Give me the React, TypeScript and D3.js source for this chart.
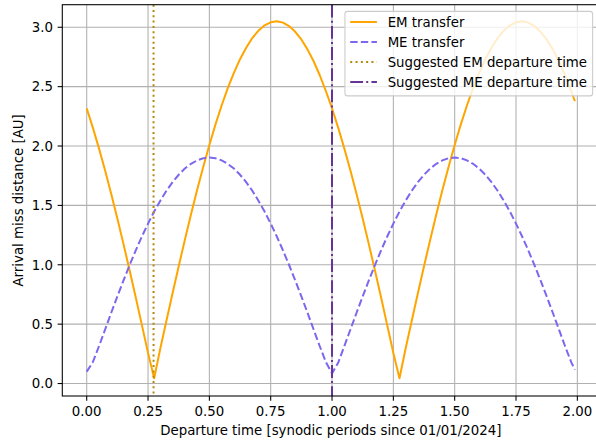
import React from "react";
import * as d3 from "d3";

// departure time in synodic periods since 01/01/2024
const departureTime = [
  0, 0.025, 0.05, 0.075, 0.1, 0.125, 0.15, 0.175, 0.2, 0.225,
  0.25, 0.275, 0.3, 0.325, 0.35, 0.375, 0.4, 0.425, 0.45, 0.475,
  0.5, 0.525, 0.55, 0.575, 0.6, 0.625, 0.65, 0.675, 0.7, 0.725,
  0.75, 0.775, 0.8, 0.825, 0.85, 0.875, 0.9, 0.925, 0.95, 0.975,
  1.0, 1.025, 1.05, 1.075, 1.1, 1.125, 1.15, 1.175, 1.2, 1.225,
  1.25, 1.275, 1.3, 1.325, 1.35, 1.375, 1.4, 1.425, 1.45, 1.475,
  1.5, 1.525, 1.55, 1.575, 1.6, 1.625, 1.65, 1.675, 1.7, 1.725,
  1.75, 1.775, 1.8, 1.825, 1.85, 1.875, 1.9, 1.925, 1.95, 1.975,
  1.99,
];

// arrival miss distance [AU], Earth -> Mars
const emMiss = [
  2.317, 2.155, 1.98, 1.794, 1.596, 1.39, 1.174, 0.952, 0.724, 0.492,
  0.257, 0.045, 0.295, 0.529, 0.761, 0.988, 1.209, 1.423, 1.629, 1.824,
  2.009, 2.182, 2.341, 2.487, 2.616, 2.731, 2.828, 2.909, 2.971, 3.016,
  3.042, 3.05, 3.039, 3.01, 2.962, 2.897, 2.814, 2.714, 2.596, 2.463,
  2.317, 2.155, 1.98, 1.794, 1.596, 1.39, 1.174, 0.952, 0.724, 0.492,
  0.257, 0.045, 0.295, 0.529, 0.761, 0.988, 1.209, 1.423, 1.629, 1.824,
  2.009, 2.182, 2.341, 2.487, 2.616, 2.731, 2.828, 2.909, 2.971, 3.016,
  3.042, 3.05, 3.039, 3.01, 2.962, 2.897, 2.814, 2.714, 2.596, 2.463,
  2.377,
];

// arrival miss distance [AU], Mars -> Earth
const meMiss = [
  0.1, 0.18, 0.314, 0.455, 0.596, 0.734, 0.868, 0.998, 1.121, 1.238,
  1.347, 1.448, 1.54, 1.623, 1.696, 1.758, 1.81, 1.85, 1.879, 1.897,
  1.903, 1.897, 1.879, 1.85, 1.81, 1.758, 1.696, 1.623, 1.54, 1.448,
  1.347, 1.238, 1.121, 0.998, 0.868, 0.734, 0.596, 0.455, 0.314, 0.18,
  0.085, 0.175, 0.314, 0.455, 0.596, 0.734, 0.868, 0.998, 1.121, 1.238,
  1.347, 1.448, 1.54, 1.623, 1.696, 1.758, 1.81, 1.85, 1.879, 1.897,
  1.903, 1.897, 1.879, 1.85, 1.81, 1.758, 1.696, 1.623, 1.54, 1.448,
  1.347, 1.238, 1.121, 0.998, 0.868, 0.734, 0.596, 0.455, 0.314, 0.18,
  0.117,
];

const suggestedEM = 0.2725;
const suggestedME = 1.0;

const xTicks = [0, 0.25, 0.5, 0.75, 1.0, 1.25, 1.5, 1.75, 2.0];
const yTicks = [0, 0.5, 1.0, 1.5, 2.0, 2.5, 3.0];

const legendItems = [
  { label: "EM transfer", color: "orange", dash: "none" },
  { label: "ME transfer", color: "mediumslateblue", dash: "7.4,3.2" },
  { label: "Suggested EM departure time", color: "darkgoldenrod", dash: "2,3.3" },
  { label: "Suggested ME departure time", color: "rebeccapurple", dash: "12.8,3.2,2,3.2" },
];

export default function App() {
  const width = 596;
  const height = 442;
  const left = 62.3;
  const right = 599.3;
  const top = 4.7;
  const bottom = 396;
  const font = "'DejaVu Sans', sans-serif";

  const x = d3.scaleLinear().domain([-0.0995, 2.0895]).range([left, right]);
  const y = d3.scaleLinear().domain([-0.105, 3.19]).range([bottom, top]);

  const pts = departureTime.map((t, i) => ({ t, em: emMiss[i], me: meMiss[i] }));
  const emLine = d3.line<any>().x((d) => x(d.t)).y((d) => y(d.em));
  const meLine = d3.line<any>().x((d) => x(d.t)).y((d) => y(d.me));

  // legend box, anchored to upper right of the axes
  const legW = 247.7;
  const legX = right - 6.67 - legW;
  const legY = top + 6.67;
  const rowH = 20;

  return (
    <div style={{ position: "absolute", left: 0, top: 0 }}>
      <svg width={width} height={height} style={{ display: "block", background: "white" }}>
        <defs>
          <clipPath id="plot">
            <rect x={left} y={top} width={right - left} height={bottom - top} />
          </clipPath>
        </defs>

        {/* grid */}
        {xTicks.map((t) => (
          <line key={"gx" + t} x1={x(t)} x2={x(t)} y1={top} y2={bottom} stroke="#b0b0b0" strokeWidth={1.07} />
        ))}
        {yTicks.map((t) => (
          <line key={"gy" + t} x1={left} x2={right} y1={y(t)} y2={y(t)} stroke="#b0b0b0" strokeWidth={1.07} />
        ))}

        <g clipPath="url(#plot)" fill="none" strokeWidth={2}>
          <path d={emLine(pts) || ""} stroke="orange" strokeLinejoin="round" />
          <path d={meLine(pts) || ""} stroke="mediumslateblue" strokeDasharray="7.4,3.2" />
          <line x1={x(suggestedEM)} x2={x(suggestedEM)} y1={top} y2={bottom}
            stroke="darkgoldenrod" strokeDasharray="2,3.3" />
          <line x1={x(suggestedME)} x2={x(suggestedME)} y1={top} y2={bottom}
            stroke="rebeccapurple" strokeDasharray="12.8,3.2,2,3.2" />
        </g>

        {/* spines */}
        <rect x={left} y={top} width={right - left} height={bottom - top} fill="none" stroke="black" strokeWidth={1.07} />

        {/* x axis */}
        {xTicks.map((t) => (
          <g key={"xt" + t}>
            <line x1={x(t)} x2={x(t)} y1={bottom} y2={bottom + 4.67} stroke="black" strokeWidth={1.07} />
            <text x={x(t)} y={415.5} textAnchor="middle" fontFamily={font} fontSize={13.33} fill="black">
              {d3.format(".2f")(t)}
            </text>
          </g>
        ))}
        <text x={(left + right) / 2} y={435} textAnchor="middle" fontFamily={font} fontSize={13.33} fill="black">
          Departure time [synodic periods since 01/01/2024]
        </text>

        {/* y axis */}
        {yTicks.map((t) => (
          <g key={"yt" + t}>
            <line x1={left - 4.67} x2={left} y1={y(t)} y2={y(t)} stroke="black" strokeWidth={1.07} />
            <text x={52.9} y={y(t) + 4.8} textAnchor="end" fontFamily={font} fontSize={13.33} fill="black">
              {d3.format(".1f")(t)}
            </text>
          </g>
        ))}
        <text transform={`translate(23, ${(top + bottom) / 2}) rotate(-90)`} textAnchor="middle"
          fontFamily={font} fontSize={13.33} fill="black">
          Arrival miss distance [AU]
        </text>

        {/* legend */}
        <rect x={legX} y={legY} width={legW} height={84.5} rx={2.7} fill="white" fillOpacity={0.8}
          stroke="#cccccc" strokeWidth={1.07} />
        {legendItems.map((d, i) => {
          const cy = legY + 10.6 + i * rowH;
          return (
            <g key={d.label}>
              <line x1={legX + 5.3} x2={legX + 32} y1={cy} y2={cy} stroke={d.color} strokeWidth={2}
                strokeDasharray={d.dash} />
              <text x={legX + 42.7} y={cy + 4.8} fontFamily={font} fontSize={13.33} fill="black">
                {d.label}
              </text>
            </g>
          );
        })}
      </svg>
    </div>
  );
}
